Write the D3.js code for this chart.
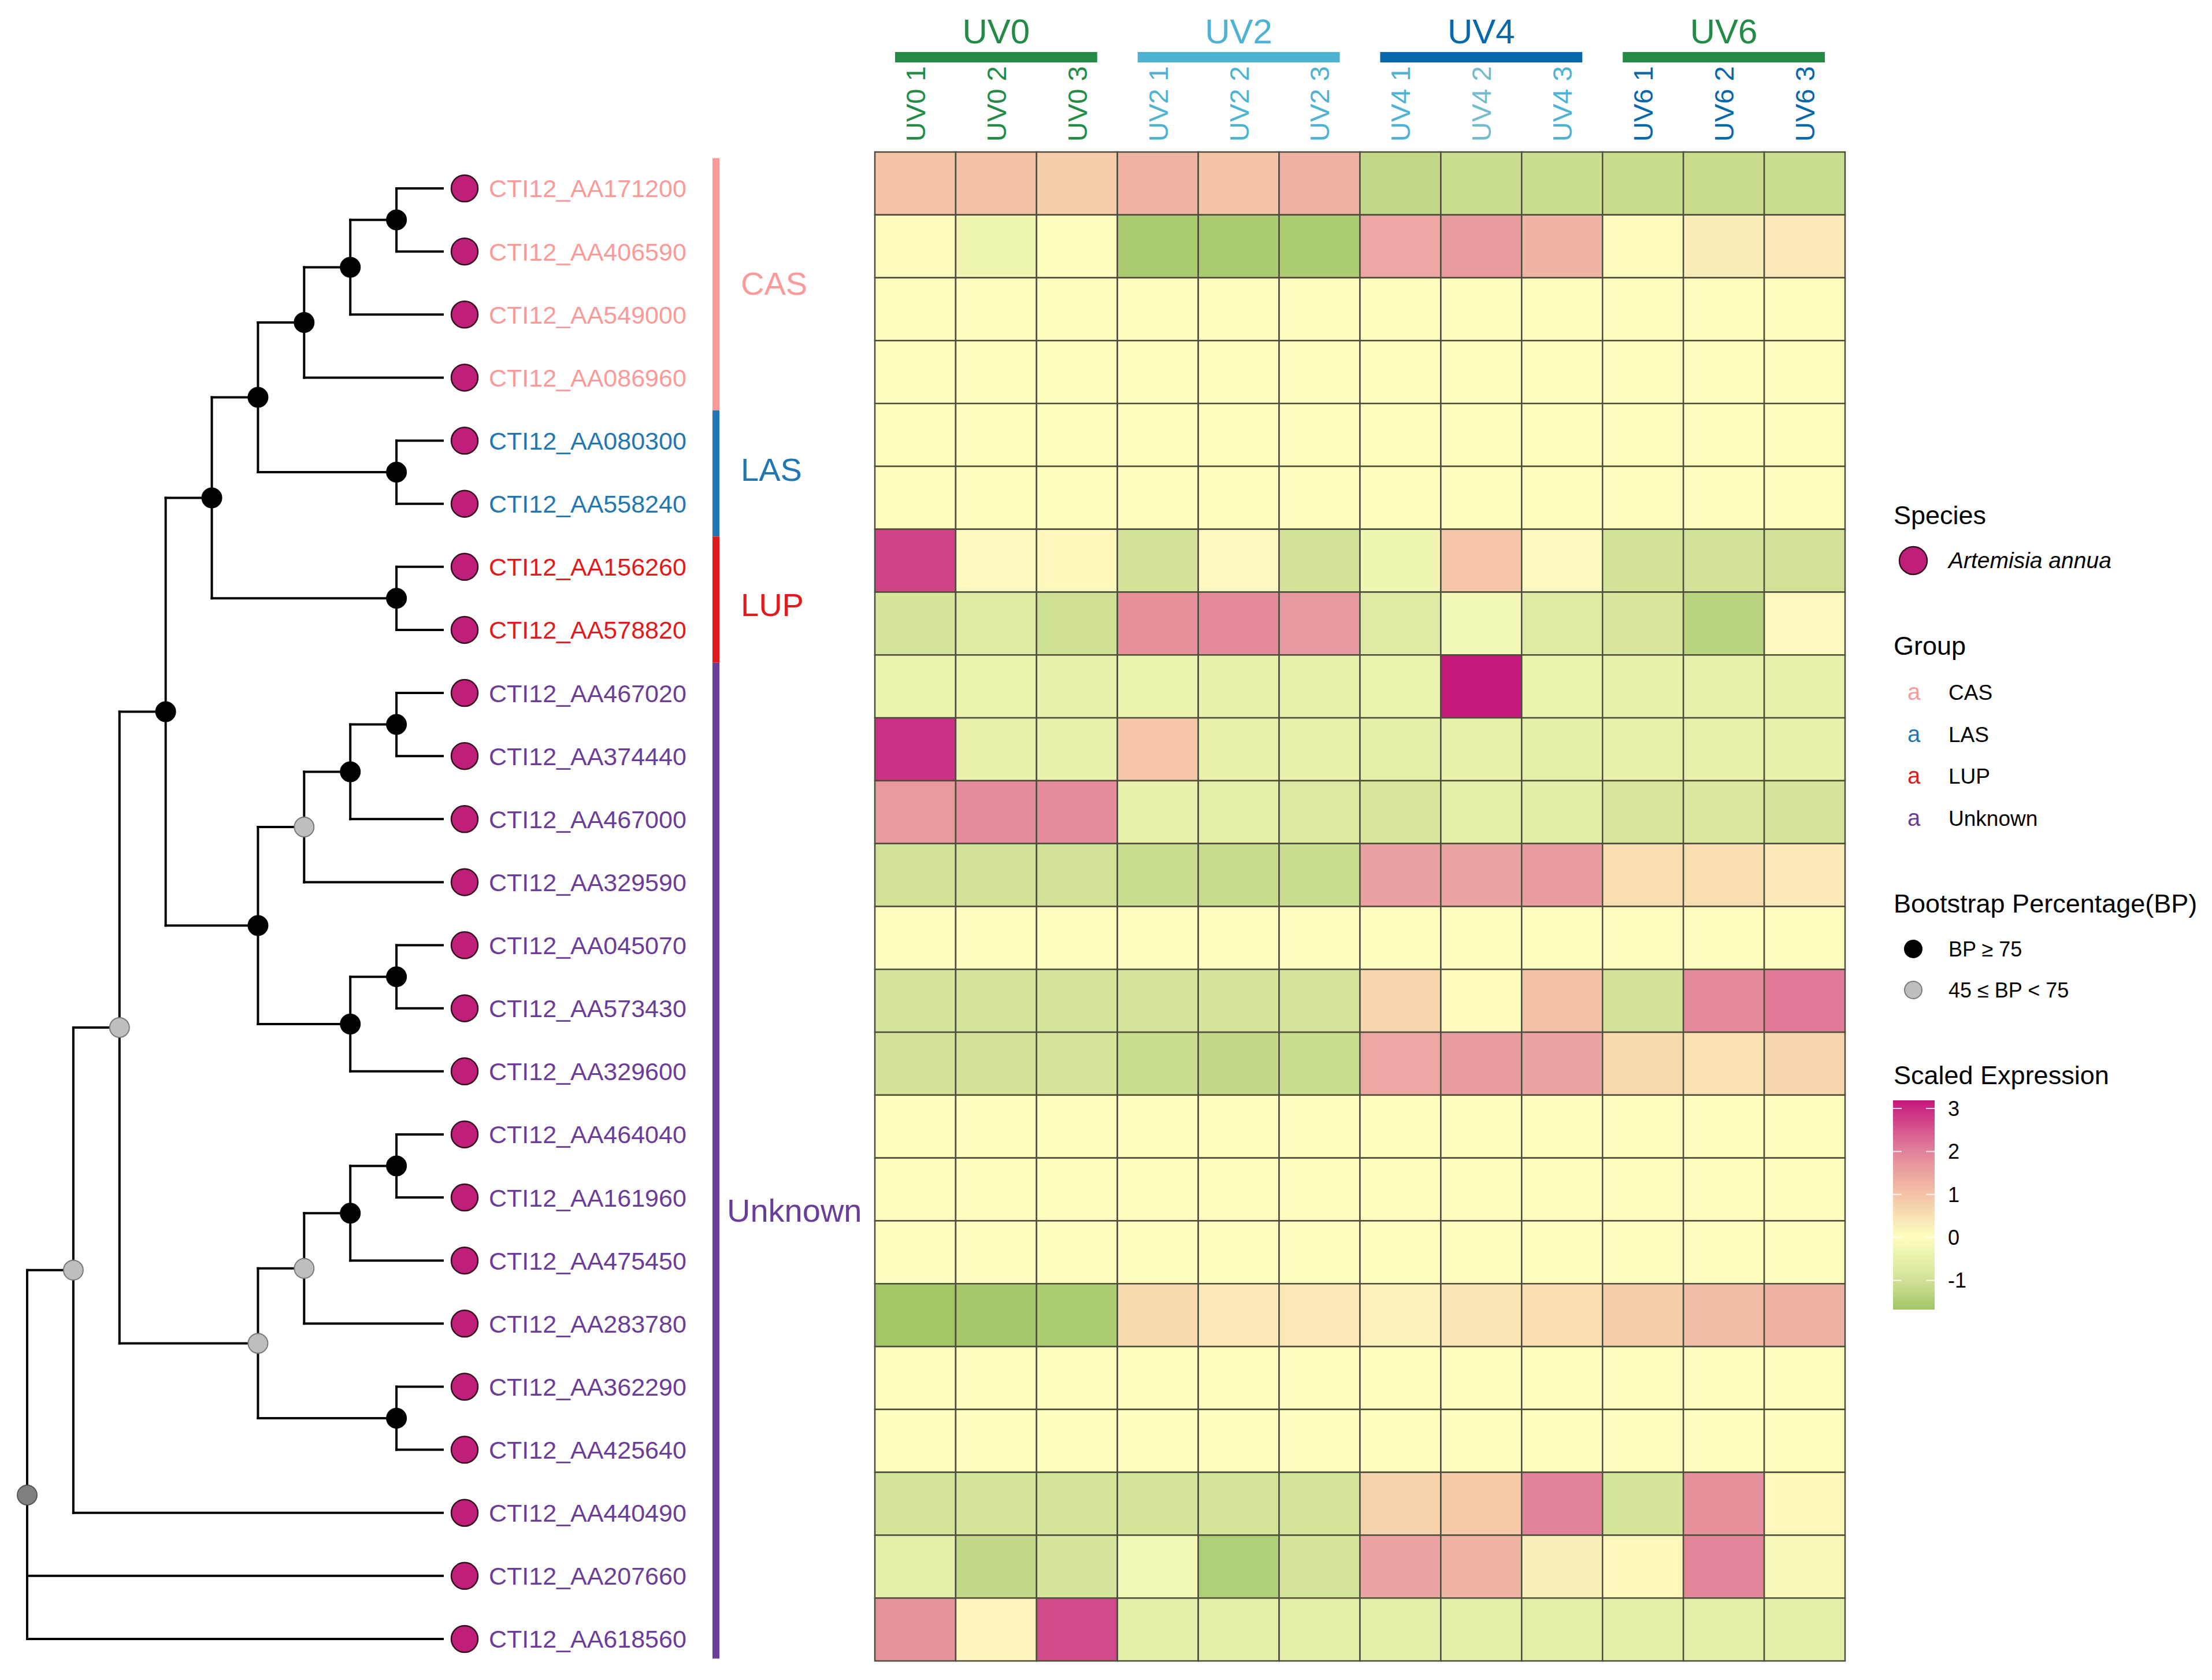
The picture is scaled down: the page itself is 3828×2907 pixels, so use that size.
<!DOCTYPE html>
<html>
<head>
<meta charset="utf-8">
<script src="https://cdn.jsdelivr.net/npm/d3@7"></script>
<style>
  body { margin: 0; background: #fff; }
  text { font-family: "Liberation Sans", Arial, sans-serif; }
</style>
</head>
<body>
<svg id="chart"></svg>
<script>
// Rows of the heatmap, top to bottom (same order as the tree tips)
const genes = [
  'CTI12_AA171200', 'CTI12_AA406590', 'CTI12_AA549000', 'CTI12_AA086960',
  'CTI12_AA080300', 'CTI12_AA558240', 'CTI12_AA156260', 'CTI12_AA578820',
  'CTI12_AA467020', 'CTI12_AA374440', 'CTI12_AA467000', 'CTI12_AA329590',
  'CTI12_AA045070', 'CTI12_AA573430', 'CTI12_AA329600', 'CTI12_AA464040',
  'CTI12_AA161960', 'CTI12_AA475450', 'CTI12_AA283780', 'CTI12_AA362290',
  'CTI12_AA425640', 'CTI12_AA440490', 'CTI12_AA207660', 'CTI12_AA618560',
];

// Group of every gene
const geneGroups = [
  'CAS', 'CAS', 'CAS', 'CAS', 'LAS', 'LAS', 'LUP', 'LUP',
  'Unknown', 'Unknown', 'Unknown', 'Unknown', 'Unknown', 'Unknown', 'Unknown', 'Unknown',
  'Unknown', 'Unknown', 'Unknown', 'Unknown', 'Unknown', 'Unknown', 'Unknown', 'Unknown',
];
const groups = ['CAS', 'LAS', 'LUP', 'Unknown'];
const groupColors = ['#fb9a99', '#1f78b4', '#e31a1c', '#6a3d9a'];

// Columns
const conditions = ['UV0', 'UV2', 'UV4', 'UV6'];
const conditionColors = ['#238b45', '#4eb3d3', '#0868ac', '#238b45'];
const samples = [
  'UV0 1', 'UV0 2', 'UV0 3', 'UV2 1', 'UV2 2', 'UV2 3',
  'UV4 1', 'UV4 2', 'UV4 3', 'UV6 1', 'UV6 2', 'UV6 3',
];
const sampleColors = [
  '#238b45', '#238b45', '#238b45', '#4eb3d3', '#4eb3d3', '#4eb3d3',
  '#4eb3d3', '#74bccd', '#4eb3d3', '#0868ac', '#0868ac', '#0868ac',
];

// Scaled expression, one row per gene, one value per sample
const expression = [
  [1.0, 1.05, 0.85, 1.25, 1.0, 1.3, -1.2, -1.1, -1.1, -1.15, -1.15, -1.1],
  [0.05, -0.3, 0.0, -1.55, -1.55, -1.5, 1.45, 1.65, 1.25, 0.05, 0.3, 0.35],
  [0, 0, 0, 0, 0, 0, 0, 0, 0, 0, 0, 0],
  [0, 0, 0, 0, 0, 0, 0, 0, 0, 0, 0, 0],
  [0, 0, 0, 0, 0, 0, 0, 0, 0, 0, 0, 0],
  [0, 0, 0, 0, 0, 0, 0, 0, 0, 0, 0, 0],
  [2.7, 0.1, 0.12, -0.95, 0.1, -0.95, -0.3, 0.95, 0.1, -0.95, -0.95, -1.0],
  [-0.9, -0.7, -1.05, 1.8, 1.9, 1.7, -0.7, -0.25, -0.7, -0.85, -1.35, 0.1],
  [-0.4, -0.4, -0.45, -0.4, -0.45, -0.45, -0.4, 3.19, -0.4, -0.45, -0.45, -0.45],
  [2.9, -0.5, -0.5, 0.95, -0.5, -0.5, -0.55, -0.5, -0.55, -0.5, -0.5, -0.5],
  [1.65, 1.85, 1.85, -0.45, -0.55, -0.75, -0.85, -0.55, -0.6, -0.85, -0.8, -0.9],
  [-1.0, -1.0, -1.0, -1.1, -1.15, -1.1, 1.55, 1.5, 1.6, 0.55, 0.55, 0.35],
  [0, 0, 0, 0, 0, 0, 0, 0, 0, 0, 0, 0],
  [-0.9, -0.9, -0.9, -0.9, -0.88, -0.9, 0.7, 0.05, 1.05, -0.95, 1.9, 2.1],
  [-0.95, -0.95, -0.9, -1.1, -1.2, -1.1, 1.45, 1.6, 1.5, 0.65, 0.5, 0.7],
  [0, 0, 0, 0, 0, 0, 0, 0, 0, 0, 0, 0],
  [0, 0, 0, 0, 0, 0, 0, 0, 0, 0, 0, 0],
  [0, 0, 0, 0, 0, 0, 0, 0, 0, 0, 0, 0],
  [-1.68, -1.62, -1.5, 0.65, 0.35, 0.38, 0.22, 0.4, 0.55, 0.85, 1.1, 1.3],
  [0, 0, 0, 0, 0, 0, 0, 0, 0, 0, 0, 0],
  [0, 0, 0, 0, 0, 0, 0, 0, 0, 0, 0, 0],
  [-0.92, -0.9, -0.92, -0.93, -0.92, -0.92, 0.75, 0.9, 2.0, -0.92, 1.8, 0.12],
  [-0.55, -1.2, -0.88, -0.25, -1.48, -0.9, 1.5, 1.25, 0.25, 0.12, 1.95, -0.2],
  [1.75, 0.15, 2.65, -0.58, -0.58, -0.58, -0.58, -0.58, -0.58, -0.58, -0.58, -0.58],
];

// Colour ramp of the scaled expression
const colorStops = [-1.68, -1, 0, 1, 2, 3.19];
const colorRamp = ['#a2c566', '#d1e298', '#fefebf', '#f4c4a7', '#e2839b', '#c5187d'];
const legendTicks = [-1, 0, 1, 2, 3];

// Gene tree, internal labels are bootstrap classes:
// H = BP >= 75, M = 45 <= BP < 75, L = below
const treeNewick =
  '(((((((((CTI12_AA171200,CTI12_AA406590)H,CTI12_AA549000)H,CTI12_AA086960)H,' +
  '(CTI12_AA080300,CTI12_AA558240)H)H,(CTI12_AA156260,CTI12_AA578820)H)H,' +
  '((((CTI12_AA467020,CTI12_AA374440)H,CTI12_AA467000)H,CTI12_AA329590)M,' +
  '((CTI12_AA045070,CTI12_AA573430)H,CTI12_AA329600)H)H)H,' +
  '((((CTI12_AA464040,CTI12_AA161960)H,CTI12_AA475450)H,CTI12_AA283780)M,' +
  '(CTI12_AA362290,CTI12_AA425640)H)M)M,CTI12_AA440490)M,' +
  'CTI12_AA207660,CTI12_AA618560)L';

const bpClasses = ['H', 'M', 'L'];
const bpFills = ['#000000', '#bebebe', '#7f7f7f'];
const bpStrokes = ['#000000', '#7a7a7a', '#555555'];
const bpLabels = ['BP \u2265 75', '45 \u2264 BP < 75'];

document.addEventListener('DOMContentLoaded', () => {
  const width = 3828;
  const height = 2907;
  const tipFill = '#bf1f78';

  const svg = d3.select('#chart')
    .attr('width', width)
    .attr('height', height)
    .attr('viewBox', `0 0 ${width} ${height}`);

  svg.append('rect').attr('width', width).attr('height', height).attr('fill', '#fff');

  // small newick reader
  const parseNewick = (s) => {
    let i = 0;
    const readNode = () => {
      const n = {};
      if (s[i] === '(') {
        i++;
        n.children = [readNode()];
        while (s[i] === ',') {
          i++;
          n.children.push(readNode());
        }
        i++;
      }
      const start = i;
      while (i < s.length && !',()'.includes(s[i])) i++;
      n.name = s.slice(start, i);
      return n;
    };
    return readNode();
  };

  const groupColor = d3.scaleOrdinal().domain(groups).range(groupColors);
  const bpFill = d3.scaleOrdinal().domain(bpClasses).range(bpFills);
  const bpStroke = d3.scaleOrdinal().domain(bpClasses).range(bpStrokes);

  // ---- tree ----
  const root = d3.hierarchy(parseNewick(treeNewick));
  const depth = root.height;
  const xTree = d3.scaleLinear().domain([0, depth]).range([47, 766]);
  const yTip = d3.scalePoint().domain(genes).range([326, 2836]);
  const step = yTip.step();

  // cladogram: tips aligned, nodes placed by their height
  root.eachAfter((n) => {
    n.px = xTree(depth - n.height);
    n.py = n.children ? d3.mean(n.children, (c) => c.py) : yTip(n.data.name);
  });

  const tree = svg.append('g');
  const internals = root.descendants().filter((n) => n.children);

  tree.selectAll('line.v')
    .data(internals)
    .join('line')
    .attr('x1', (d) => d.px)
    .attr('x2', (d) => d.px)
    .attr('y1', (d) => d3.min(d.children, (c) => c.py))
    .attr('y2', (d) => d3.max(d.children, (c) => c.py))
    .attr('stroke', '#000')
    .attr('stroke-width', 4)
    .attr('stroke-linecap', 'square');

  tree.selectAll('line.h')
    .data(root.descendants().filter((n) => n.parent))
    .join('line')
    .attr('x1', (d) => d.parent.px)
    .attr('x2', (d) => d.px)
    .attr('y1', (d) => d.py)
    .attr('y2', (d) => d.py)
    .attr('stroke', '#000')
    .attr('stroke-width', 4)
    .attr('stroke-linecap', 'square');

  tree.selectAll('circle.node')
    .data(internals)
    .join('circle')
    .attr('cx', (d) => d.px)
    .attr('cy', (d) => d.py)
    .attr('r', 17)
    .attr('fill', (d) => bpFill(d.data.name))
    .attr('stroke', (d) => bpStroke(d.data.name))
    .attr('stroke-width', 2);

  const leaves = root.leaves();
  tree.selectAll('circle.tip')
    .data(leaves)
    .join('circle')
    .attr('cx', (d) => d.px + 38)
    .attr('cy', (d) => d.py)
    .attr('r', 23)
    .attr('fill', tipFill)
    .attr('stroke', '#33101f')
    .attr('stroke-width', 2.5);

  tree.selectAll('text.tip')
    .data(leaves)
    .join('text')
    .attr('x', (d) => d.px + 80)
    .attr('y', (d) => d.py)
    .attr('dy', '0.36em')
    .attr('font-size', 43)
    .attr('fill', (d) => groupColor(geneGroups[genes.indexOf(d.data.name)]))
    .text((d) => d.data.name);

  // ---- group strips ----
  const stripLabelRow = { CAS: 1.5, LAS: 4.45, LUP: 6.6, Unknown: 16.2 };
  const stripLabelX = { CAS: 1282, LAS: 1282, LUP: 1282, Unknown: 1258 };
  const strips = groups.map((g, k) => {
    const idx = genes.map((_, i) => i).filter((i) => geneGroups[i] === g);
    const first = yTip(genes[idx[0]]);
    const last = yTip(genes[idx[idx.length - 1]]);
    return {
      group: g,
      top: first - step * 0.48,
      bottom: last + (k === groups.length - 1 ? step * 0.31 : step * 0.52),
    };
  });

  svg.append('g').selectAll('rect')
    .data(strips)
    .join('rect')
    .attr('x', 1233)
    .attr('width', 12)
    .attr('y', (d) => d.top)
    .attr('height', (d) => d.bottom - d.top)
    .attr('fill', (d) => groupColor(d.group));

  svg.append('g').selectAll('text')
    .data(strips)
    .join('text')
    .attr('x', (d) => stripLabelX[d.group])
    .attr('y', (d) => yTip(genes[0]) + stripLabelRow[d.group] * step)
    .attr('dy', '0.36em')
    .attr('font-size', 56)
    .attr('fill', (d) => groupColor(d.group))
    .text((d) => d.group);

  // ---- heatmap ----
  const xCell = d3.scaleBand().domain(samples).range([1514, 3193]);
  const yCell = d3.scaleBand().domain(genes).range([263, 2874]);
  const color = d3.scaleLinear().domain(colorStops).range(colorRamp).interpolate(d3.interpolateRgb);

  const cells = [];
  genes.forEach((g, i) => {
    samples.forEach((s, j) => cells.push({ gene: g, sample: s, value: expression[i][j] }));
  });

  svg.append('g').selectAll('rect')
    .data(cells)
    .join('rect')
    .attr('x', (d) => xCell(d.sample))
    .attr('y', (d) => yCell(d.gene))
    .attr('width', xCell.bandwidth())
    .attr('height', yCell.bandwidth())
    .attr('fill', (d) => color(d.value))
    .attr('stroke', '#4d4d3c')
    .attr('stroke-width', 2.5);

  // sample labels, vertical
  svg.append('g').selectAll('text')
    .data(samples)
    .join('text')
    .attr('transform', (d) => `translate(${xCell(d) + xCell.bandwidth() / 2}, 245) rotate(-90)`)
    .attr('dy', '0.36em')
    .attr('font-size', 47)
    .attr('fill', (d, i) => sampleColors[i])
    .text((d) => d);

  // condition bars and titles
  const condInfo = conditions.map((c, k) => {
    const cols = samples.filter((s) => s.startsWith(c + ' '));
    const x0 = xCell(cols[0]);
    const x1 = xCell(cols[cols.length - 1]) + xCell.bandwidth();
    return { name: c, color: conditionColors[k], x0, x1 };
  });
  const inset = xCell.bandwidth() * 0.25;

  svg.append('g').selectAll('rect')
    .data(condInfo)
    .join('rect')
    .attr('x', (d) => d.x0 + inset)
    .attr('width', (d) => d.x1 - d.x0 - 2 * inset)
    .attr('y', 90)
    .attr('height', 18)
    .attr('fill', (d) => d.color);

  svg.append('g').selectAll('text')
    .data(condInfo)
    .join('text')
    .attr('x', (d) => (d.x0 + d.x1) / 2)
    .attr('y', 75)
    .attr('text-anchor', 'middle')
    .attr('font-size', 60)
    .attr('fill', (d) => d.color)
    .text((d) => d.name);

  // ---- legends ----
  const lg = svg.append('g');
  const lx = 3277;

  lg.append('text').attr('x', lx).attr('y', 907).attr('font-size', 45).text('Species');
  lg.append('circle')
    .attr('cx', 3311).attr('cy', 970).attr('r', 24)
    .attr('fill', tipFill).attr('stroke', '#33101f').attr('stroke-width', 2.5);
  lg.append('text')
    .attr('x', 3372).attr('y', 983)
    .attr('font-size', 39).attr('font-style', 'italic')
    .text('Artemisia annua');

  lg.append('text').attr('x', lx).attr('y', 1133).attr('font-size', 45).text('Group');
  const groupRow = d3.scalePoint().domain(groups).range([1211, 1429]);
  lg.selectAll('text.gkey')
    .data(groups)
    .join('text')
    .attr('x', 3312)
    .attr('y', (d) => groupRow(d))
    .attr('text-anchor', 'middle')
    .attr('font-size', 40)
    .attr('fill', (d) => groupColor(d))
    .text('a');
  lg.selectAll('text.glab')
    .data(groups)
    .join('text')
    .attr('x', 3372)
    .attr('y', (d) => groupRow(d))
    .attr('font-size', 37)
    .text((d) => d);

  lg.append('text').attr('x', lx).attr('y', 1579).attr('font-size', 45)
    .text('Bootstrap Percentage(BP)');
  const bpRow = d3.scalePoint().domain(bpLabels).range([1642, 1713]);
  lg.selectAll('circle.bp')
    .data(bpLabels)
    .join('circle')
    .attr('cx', 3311)
    .attr('cy', (d) => bpRow(d))
    .attr('r', 15)
    .attr('fill', (d, i) => bpFills[i])
    .attr('stroke', (d, i) => bpStrokes[i])
    .attr('stroke-width', 2);
  lg.selectAll('text.bp')
    .data(bpLabels)
    .join('text')
    .attr('x', 3372)
    .attr('y', (d) => bpRow(d))
    .attr('dy', '0.36em')
    .attr('font-size', 36)
    .text((d) => d);

  lg.append('text').attr('x', lx).attr('y', 1876).attr('font-size', 45)
    .text('Scaled Expression');

  const vMin = d3.min(expression.flat());
  const vMax = d3.max(expression.flat());
  const yBar = d3.scaleLinear().domain([vMin, vMax]).range([2266, 1904]);

  const grad = svg.append('defs').append('linearGradient')
    .attr('id', 'expr-grad')
    .attr('x1', 0).attr('y1', 1).attr('x2', 0).attr('y2', 0);
  grad.selectAll('stop')
    .data(d3.range(0, 1.0001, 0.05))
    .join('stop')
    .attr('offset', (t) => t)
    .attr('stop-color', (t) => color(vMin + t * (vMax - vMin)));

  lg.append('rect')
    .attr('x', 3276).attr('y', 1904)
    .attr('width', 72).attr('height', 2266 - 1904)
    .attr('fill', 'url(#expr-grad)');

  lg.selectAll('path.tick')
    .data(legendTicks)
    .join('path')
    .attr('d', (d) => `M3276,${yBar(d)}h15M3333,${yBar(d)}h15`)
    .attr('stroke', '#fff')
    .attr('stroke-opacity', 0.8)
    .attr('stroke-width', 2);

  lg.selectAll('text.tick')
    .data(legendTicks)
    .join('text')
    .attr('x', 3371)
    .attr('y', (d) => yBar(d))
    .attr('dy', '0.36em')
    .attr('font-size', 36)
    .text((d) => d);
});
</script>
</body>
</html>
